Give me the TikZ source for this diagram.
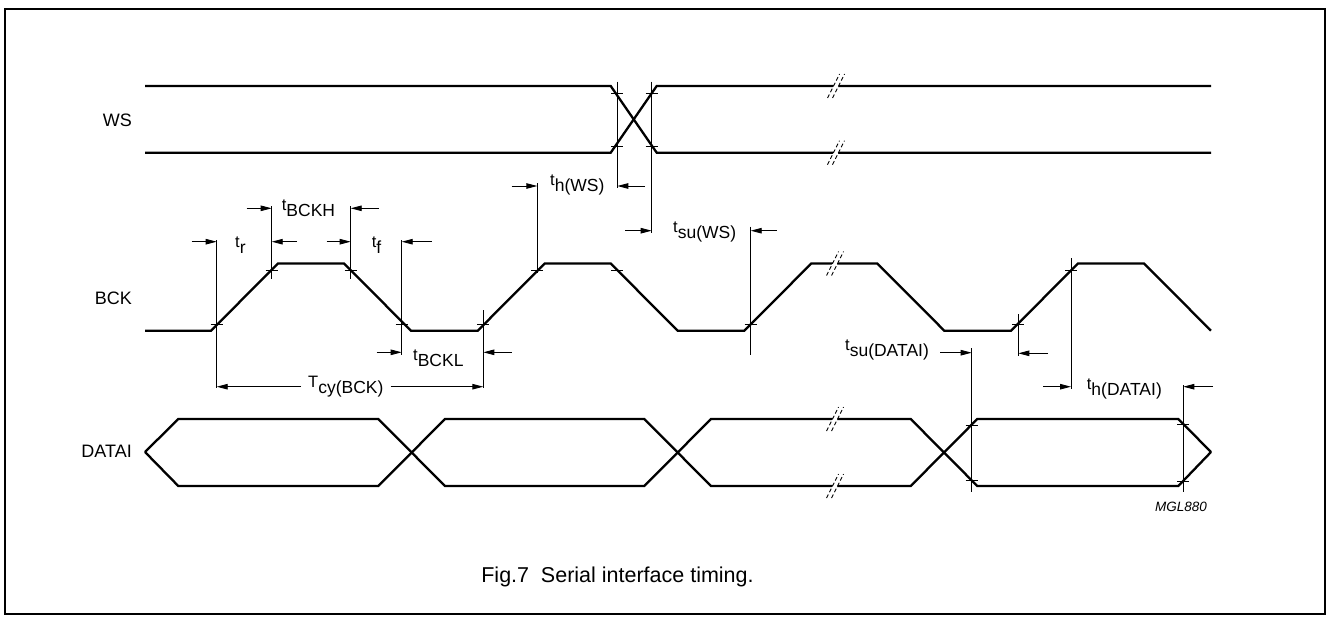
\documentclass[tikz,border=0pt]{standalone}
\usepackage{fontspec}
\setmainfont{Liberation Sans}
\usetikzlibrary{arrows.meta,calc}
\tikzset{
  wave/.style={line width=2.3pt, line join=miter},
  dimline/.style={line width=0.9pt},
  arr/.style={line width=0.9pt,-{Triangle[length=11pt,width=5.5pt]}},
  tickmark/.style={line width=0.9pt},
  lab/.style={font=\fontsize{18}{18}\selectfont, inner sep=0pt},
  tlab/.style={font=\fontsize{16.5}{16.5}\selectfont, inner sep=0pt, anchor=base west},
  brk/.style={line width=0.9pt, dash pattern=on 4pt off 2.5pt},
}
\newcommand\tsb[2]{#1\raisebox{-6pt}{\fontsize{17.5}{17.5}\selectfont #2}}
\newcommand\tickat[2]{\draw[tickmark] (#1-6,#2) -- (#1+6,#2);}
\newcommand\brkmark[2]{%
  \fill[white] (#1-8.5,#2+12) -- (#1+3.5,#2-12) -- (#1+8.5,#2-12) -- (#1-3.5,#2+12) -- cycle;
  \draw[brk] (#1-8.5,#2+12) -- (#1+3.5,#2-12);
  \draw[brk] (#1-3.5,#2+12) -- (#1+8.5,#2-12);}
\begin{document}
\begin{tikzpicture}[x=1pt,y=-1pt]
\useasboundingbox (0,0) rectangle (1327,616);
\draw[line width=2pt] (5,9) rectangle (1325,614);

% signal names
\node[lab,anchor=base east] (ws) at (132,126) {WS};
\node[lab,anchor=base east] (bck) at (132,304) {BCK};
\node[lab,anchor=base east] (datai) at (132,457) {DATAI};

% WS
\draw[wave] (145,86) -- (610.7,86) -- (656.7,152.7) -- (1211,152.7);
\draw[wave] (145,152.7) -- (610.7,152.7) -- (656.7,86) -- (1211,86);

% BCK
\draw[wave] (145,330.7) -- (211,330.7) -- (278,263.5) -- (344,263.5) -- (411,330.7)
  -- (477.7,330.7) -- (544.7,263.5) -- (610.7,263.5) -- (677.7,330.7)
  -- (744.3,330.7) -- (811.3,263.5) -- (877.3,263.5) -- (944.3,330.7)
  -- (1011,330.7) -- (1078,263.5) -- (1144,263.5) -- (1211,330.7);

% DATAI
\draw[wave] (145,452) -- (178.3,419) -- (378.3,419) -- (445,486) -- (644.3,486)
  -- (711,419) -- (910.7,419) -- (977.3,486) -- (1178.3,486) -- (1211,452);
\draw[wave] (145,452) -- (178.3,486) -- (378.3,486) -- (445,419) -- (644.3,419)
  -- (711,486) -- (910.7,486) -- (977.3,419) -- (1178.3,419) -- (1211,452);

% break marks
\brkmark{836}{86}
\brkmark{836}{152.7}
\brkmark{835}{263.5}
\brkmark{835}{419}
\brkmark{835}{486}

% vertical reference lines
\draw[dimline] (617.3,81.7) -- (617.3,188);
\draw[dimline] (651.7,81.7) -- (651.7,233);
\draw[dimline] (216.7,240) -- (216.7,388.3);
\draw[dimline] (271.7,206) -- (271.7,279);
\draw[dimline] (350.7,206) -- (350.7,279);
\draw[dimline] (401.7,240) -- (401.7,355);
\draw[dimline] (483.3,310) -- (483.3,388.3);
\draw[dimline] (537.3,183) -- (537.3,273);
\draw[dimline] (750.7,226.7) -- (750.7,355);
\draw[dimline] (1018.3,314) -- (1018.3,356);
\draw[dimline] (1071,258) -- (1071,389);
\draw[dimline] (971.7,348) -- (971.7,491.7);
\draw[dimline] (1183.3,385) -- (1183.3,491.7);

% ticks
\tickat{617.3}{93}\tickat{651.7}{93}\tickat{617.3}{146}\tickat{651.7}{146}
\tickat{216.7}{324}\tickat{271.7}{270}\tickat{350.7}{270}\tickat{401.7}{324}
\tickat{483.3}{324}\tickat{537.3}{270}\tickat{617}{270}\tickat{750.7}{324}
\tickat{1018.3}{324}\tickat{1071}{270}
\tickat{971.7}{425}\tickat{971.7}{480}\tickat{1183.3}{424}\tickat{1183.3}{481}

% timing labels
\node[tlab] (tr) at (235,247) {\tsb{t}{r}};
\node[tlab] (tbckh) at (281.7,210) {\tsb{t}{BCKH}};
\node[tlab] (tf) at (371.7,247) {\tsb{t}{f}};
\node[tlab] (tbckl) at (413,360) {\tsb{t}{BCKL}};
\node[tlab] (tcy) at (308,387) {\tsb{T}{cy(BCK)}};
\node[tlab] (thws) at (550,185) {\tsb{t}{h(WS)}};
\node[tlab] (tsuws) at (673,232) {\tsb{t}{su(WS)}};
\node[tlab] (tsud) at (845,350) {\tsb{t}{su(DATAI)}};
\node[tlab] (thd) at (1086.7,389) {\tsb{t}{h(DATAI)}};

% dimension arrows
\draw[arr] (191.7,241.7) -- (216.7,241.7);
\draw[arr] (297,241.7) -- (271.7,241.7);
\draw[arr] (246.7,208.3) -- (271.7,208.3);
\draw[arr] (379,208.3) -- (350.7,208.3);
\draw[arr] (326.7,241.7) -- (350.7,241.7);
\draw[arr] (431.7,241.7) -- (401.7,241.7);
\draw[arr] (376.7,352.3) -- (401.7,352.3);
\draw[arr] (511.7,352.3) -- (483.3,352.3);
\coordinate (cyl) at (216.7,386.7);
\coordinate (cyr) at (483.3,386.7);
\draw[arr] ([xshift=-7pt]tcy.west |- cyl) -- (cyl);
\draw[arr] ([xshift=7pt]tcy.east |- cyr) -- (cyr);
\draw[arr] (511.7,186) -- (537.3,186);
\draw[arr] (645,186) -- (617.3,186);
\draw[arr] (625,230.7) -- (651.7,230.7);
\draw[arr] (776.7,230.7) -- (750.7,230.7);
\draw[arr] (940,352.7) -- (971.7,352.7);
\draw[arr] (1048,353.3) -- (1018.3,353.3);
\draw[arr] (1043,386.7) -- (1071,386.7);
\draw[arr] (1213,386.7) -- (1183.3,386.7);

% identifiers and caption
\node[font=\fontsize{13.5}{13.5}\selectfont\itshape, anchor=base west, inner sep=0pt] (mgl) at (1155,511) {MGL880};
\node[font=\fontsize{21.5}{21.5}\selectfont, anchor=base, inner sep=0pt] (cap) at (617.5,582) {Fig.7\hspace{0.55em}Serial interface timing.};
\end{tikzpicture}
\end{document}
